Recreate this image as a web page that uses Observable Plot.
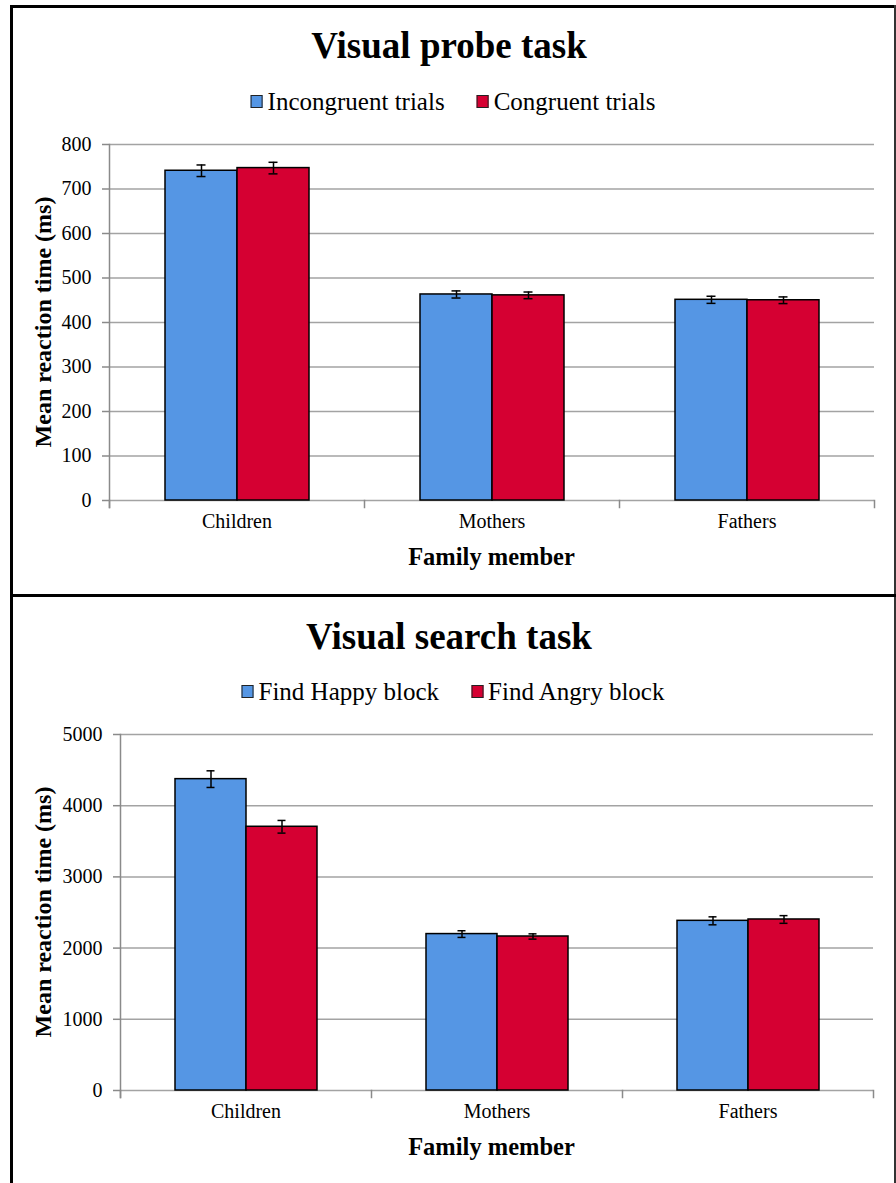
<!DOCTYPE html>
<html>
<head>
<meta charset="utf-8">
<script src="https://cdn.jsdelivr.net/npm/d3@7"></script>
<script src="https://cdn.jsdelivr.net/npm/@observablehq/plot@0.6"></script>
<style>
  html, body { margin: 0; padding: 0; background: #fff; }
  #page { position: relative; width: 896px; height: 1183px; overflow: hidden; background: #fff;
          font-family: "Liberation Serif", "Times New Roman", serif; color: #000; }
  .bar { position: absolute; background: #000; }
  .title { position: absolute; left: 449px; transform: translateX(-50%); white-space: nowrap;
           font-weight: bold; font-size: 37px; line-height: 37px; }
  .legend { position: absolute; left: 453px; transform: translateX(-50%); white-space: nowrap;
            display: flex; align-items: center; gap: 32px; font-size: 25px; line-height: 25px; }
  .legend .item { display: flex; align-items: center; }
  .legend .sw { width: 10px; height: 11px; border: 1.5px solid #222; margin-right: 5px; margin-top: 1px; }
  .xtitle { position: absolute; left: 491.5px; transform: translateX(-50%); white-space: nowrap;
            font-weight: bold; font-size: 24.5px; line-height: 24px; }
  .ytitle { position: absolute; left: 43px; transform: translate(-50%, -50%) rotate(-90deg); white-space: nowrap;
            font-weight: bold; font-size: 24px; line-height: 24px; }
  .chart { position: absolute; left: 0; }
</style>
</head>
<body>
<div id="page">
  <div class="bar" style="left:10px;top:5px;width:3px;height:1178px;"></div>
  <div class="bar" style="left:10px;top:5px;width:886px;height:2.5px;"></div>
  <div class="bar" style="left:894px;top:5px;width:1.5px;height:1178px;background:#333;"></div>
  <div class="bar" style="left:10px;top:594px;width:886px;height:3px;"></div>

  <div class="title" style="top:26.5px">Visual probe task</div>
  <div class="legend" id="leg1" style="top:88.5px"></div>
  <div class="chart" id="chart1" style="top:120px"></div>
  <div class="xtitle" style="top:545px">Family member</div>
  <div class="ytitle" style="top:322px">Mean reaction time (ms)</div>

  <div class="title" style="top:617.5px">Visual search task</div>
  <div class="legend" id="leg2" style="top:678.5px"></div>
  <div class="chart" id="chart2" style="top:710px"></div>
  <div class="xtitle" style="top:1135px">Family member</div>
  <div class="ytitle" style="top:912px">Mean reaction time (ms)</div>
</div>
<script>
// ---- Data ----
const categories = ["Children", "Mothers", "Fathers"];

const probeSeries = ["Incongruent trials", "Congruent trials"];
const probeIncongruent = [741, 463, 451];
const probeCongruent = [747, 461, 450];
const probeIncongruentErr = [13, 8, 8];
const probeCongruentErr = [13, 7.5, 7.5];
const probeTicks = [0, 100, 200, 300, 400, 500, 600, 700, 800];

const searchSeries = ["Find Happy block", "Find Angry block"];
const searchHappy = [4373, 2197, 2383];
const searchAngry = [3704, 2163, 2402];
const searchHappyErr = [117, 47, 56];
const searchAngryErr = [89, 37, 54];
const searchTicks = [0, 1000, 2000, 3000, 4000, 5000];

const seriesColors = ["#5596e4", "#d50032"];

// ---- Build ----
const serif = "'Liberation Serif', 'Times New Roman', serif";

function buildLegend(id, series) {
  const el = document.getElementById(id);
  series.forEach((s, i) => {
    const item = document.createElement("div");
    item.className = "item";
    const sw = document.createElement("div");
    sw.className = "sw";
    sw.style.background = seriesColors[i];
    const tx = document.createElement("span");
    tx.textContent = s;
    item.appendChild(sw);
    item.appendChild(tx);
    el.appendChild(item);
  });
}

function buildChart(id, series, v1, v2, e1, e2, ticks, marginLeft) {
  const rows = categories.flatMap((c, i) => [
    {cat: c, series: series[0], value: v1[i], err: e1[i]},
    {cat: c, series: series[1], value: v2[i], err: e2[i]}
  ]);
  const marginTop = 24, marginBottom = 40, height = 420;
  const plotH = height - marginTop - marginBottom;
  const gray = "#8a8a8a";
  const chart = Plot.plot({
    width: 896,
    height,
    marginTop,
    marginBottom,
    marginLeft,
    marginRight: 21.5,
    style: {fontFamily: serif, fontSize: "20px", color: "#000", background: "transparent", overflow: "visible"},
    fx: {domain: categories, padding: 0, label: null},
    x: {domain: series, paddingInner: 0, paddingOuter: 0.75, axis: null},
    y: {domain: [ticks[0], ticks[ticks.length - 1]], label: null},
    color: {domain: series, range: seriesColors},
    marks: [
      Plot.gridY({ticks, stroke: "#a3a3a3", strokeOpacity: 1, strokeWidth: 1.5}),
      Plot.axisY({ticks, tickSize: 7, tickPadding: 11, stroke: gray, strokeWidth: 1.5,
                  tickFormat: d3.format("d"), fontSize: 20, label: null}),
      Plot.axisFx({anchor: "bottom", tickSize: 0, tickPadding: 13, fontSize: 20, label: null}),
      Plot.frame({anchor: "left", facetAnchor: "left", stroke: gray, strokeWidth: 1.5, insetBottom: -7}),
      Plot.frame({anchor: "left", stroke: gray, strokeWidth: 1.5, insetTop: plotH, insetBottom: -7}),
      Plot.frame({anchor: "right", facetAnchor: "right", stroke: gray, strokeWidth: 1.5, insetTop: plotH, insetBottom: -7}),
      Plot.barY(rows, {fx: "cat", x: "series", y: "value", fill: "series", stroke: "#000", strokeWidth: 1.5}),
      Plot.ruleX(rows, {fx: "cat", x: "series", y1: d => d.value - d.err, y2: d => d.value + d.err,
                        stroke: "#000", strokeWidth: 1.5}),
      Plot.tickY(rows, {fx: "cat", x: "series", y: d => d.value - d.err, stroke: "#000", strokeWidth: 1.5,
                        insetLeft: 31.5, insetRight: 31.5}),
      Plot.tickY(rows, {fx: "cat", x: "series", y: d => d.value + d.err, stroke: "#000", strokeWidth: 1.5,
                        insetLeft: 31.5, insetRight: 31.5})
    ]
  });
  document.getElementById(id).appendChild(chart);
}

buildLegend("leg1", probeSeries);
buildLegend("leg2", searchSeries);
buildChart("chart1", probeSeries, probeIncongruent, probeCongruent, probeIncongruentErr, probeCongruentErr, probeTicks, 109);
buildChart("chart2", searchSeries, searchHappy, searchAngry, searchHappyErr, searchAngryErr, searchTicks, 119);
</script>
</body>
</html>
